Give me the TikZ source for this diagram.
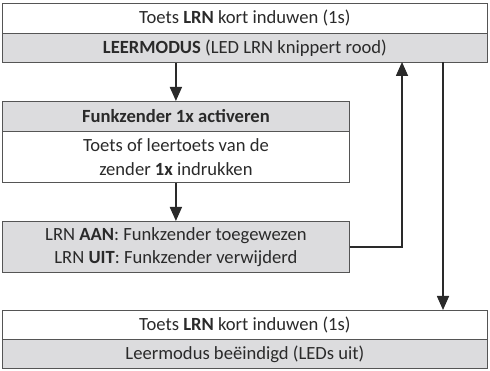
\documentclass[tikz,border=0pt]{standalone}
\usepackage{fontspec}
\setmainfont{Carlito}
\usetikzlibrary{arrows.meta}
\definecolor{rowgrey}{HTML}{DCDCDE}
\definecolor{edgegrey}{HTML}{555555}
\definecolor{inkgrey}{HTML}{2A2A2A}
\begin{document}
\begin{tikzpicture}[x=1pt,y=-1pt,font=\fontsize{18.6}{23.5}\selectfont,text=inkgrey]
  \useasboundingbox (0,0) rectangle (490,371);

  \tikzset{
    row/.style={draw=edgegrey,line width=0.8pt,inner sep=0pt,align=center,anchor=north west},
    wide/.style={row,minimum width=485pt},
    half/.style={row,minimum width=347pt},
    shaded/.style={fill=rowgrey},
    flow/.style={draw=inkgrey,line width=1.6pt,-{Triangle[width=12pt,length=14pt]}}
  }

  % learn mode on
  \node[wide,minimum height=30pt] (start) at (2,3) {Toets \textbf{LRN} kort induwen (1s)};
  \node[wide,shaded,minimum height=29pt] (learn) at (2,33) {\textbf{LEERMODUS} (LED LRN knippert rood)};

  % sender
  \node[half,shaded,minimum height=30pt] (activate) at (2,101) {\textbf{Funkzender 1x activeren}};
  \node[half,minimum height=51pt] (press) at (2,131) {Toets of leertoets van de\\zender \textbf{1x} indrukken};
  \node[half,shaded,minimum height=51pt] (result) at (2,221) {LRN \textbf{AAN}: Funkzender toegewezen\\LRN \textbf{UIT}: Funkzender verwijderd};

  % learn mode off
  \node[wide,minimum height=29pt] (stop) at (2,310) {Toets \textbf{LRN} kort induwen (1s)};
  \node[wide,shaded,minimum height=29pt] (done) at (2,339) {Leermodus beëindigd (LEDs uit)};

  \coordinate (backtop) at (402,62);
  \coordinate (exittop) at (443,62);

  \draw[flow] (learn.south -| activate.north) -- (activate.north);
  \draw[flow] (press.south) -- (result.north);
  \draw[flow] (result.east) -| (backtop);
  \draw[flow] (exittop) -- (exittop |- stop.north);

\end{tikzpicture}
\end{document}
